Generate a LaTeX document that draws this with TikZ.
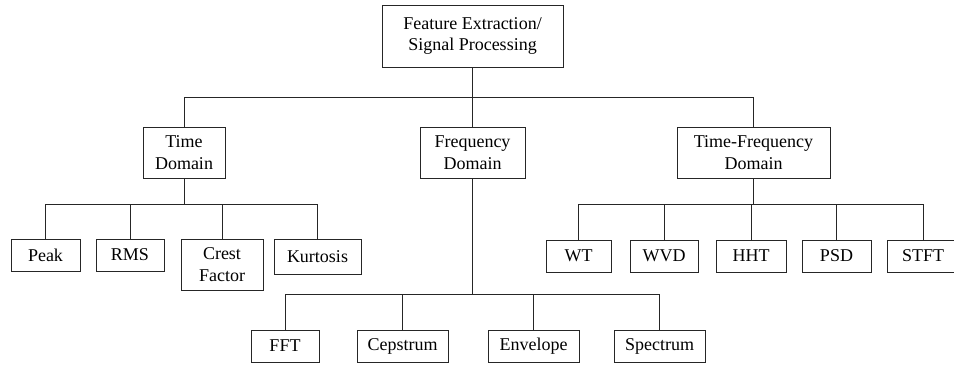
\documentclass[tikz,border=0pt]{standalone}
\usepackage{fontspec}
\setmainfont{Liberation Serif}
\begin{document}
\begin{tikzpicture}[x=0.75pt,y=-0.75pt,
  box/.style={draw=black!85,line width=0.75pt,inner sep=0pt,align=center,
    font=\fontsize{13.5}{16.3}\selectfont},
  link/.style={draw=black!85,line width=0.75pt}]
\useasboundingbox (0,0) rectangle (954,365);
\fill[white] (0,0) rectangle (954,365);
% level 0
\node[box,minimum width=181*0.75pt,minimum height=62*0.75pt] (top) at (472.5,36) {Feature Extraction/\\Signal Processing};
% level 1
\node[box,minimum width=82*0.75pt,minimum height=51*0.75pt] (time) at (184,152.5) {Time\\Domain};
\node[box,minimum width=105*0.75pt,minimum height=51*0.75pt] (freq) at (472.5,152.5) {Frequency\\Domain};
\node[box,minimum width=153*0.75pt,minimum height=51*0.75pt] (tf) at (753.5,152.5) {Time-Frequency\\Domain};
% time domain children
\node[box,minimum width=69*0.75pt,minimum height=32*0.75pt] (peak) at (45.5,255) {Peak};
\node[box,minimum width=68*0.75pt,minimum height=32*0.75pt] (rms) at (130,255) {RMS};
\node[box,minimum width=82*0.75pt,minimum height=51*0.75pt] (crest) at (222,264.5) {Crest\\Factor};
\node[box,minimum width=87*0.75pt,minimum height=35*0.75pt] (kurt) at (317.5,256.5) {Kurtosis};
% time-frequency children
\node[box,minimum width=65*0.75pt,minimum height=32*0.75pt] (wt) at (578.5,256) {WT};
\node[box,minimum width=68*0.75pt,minimum height=32*0.75pt] (wvd) at (664,256) {WVD};
\node[box,minimum width=70*0.75pt,minimum height=32*0.75pt] (hht) at (751,256) {HHT};
\node[box,minimum width=69*0.75pt,minimum height=32*0.75pt] (psd) at (836.5,256) {PSD};
\node[box,minimum width=72*0.75pt,minimum height=32*0.75pt] (stft) at (923,256) {STFT};
% frequency children
\node[box,minimum width=68*0.75pt,minimum height=32*0.75pt] (fft) at (285,346) {FFT};
\node[box,minimum width=91*0.75pt,minimum height=32*0.75pt] (ceps) at (402.5,346) {Cepstrum};
\node[box,minimum width=91*0.75pt,minimum height=32*0.75pt] (env) at (533.5,346) {Envelope};
\node[box,minimum width=91*0.75pt,minimum height=32*0.75pt] (spec) at (659.5,346) {Spectrum};
% connectors
\foreach \c in {time,freq,tf}
  \draw[link] (top.south) -- ++(0,30) -| (\c.north);
\foreach \c in {peak,rms,crest,kurt}
  \draw[link] (time.south) -- ++(0,26) -| (\c.north);
\foreach \c in {wt,wvd,hht,psd,stft}
  \draw[link] (tf.south) -- ++(0,26) -| (\c.north);
\foreach \c in {fft,ceps,env,spec}
  \draw[link] (freq.south) -- ++(0,116) -| (\c.north);
\end{tikzpicture}
\end{document}
